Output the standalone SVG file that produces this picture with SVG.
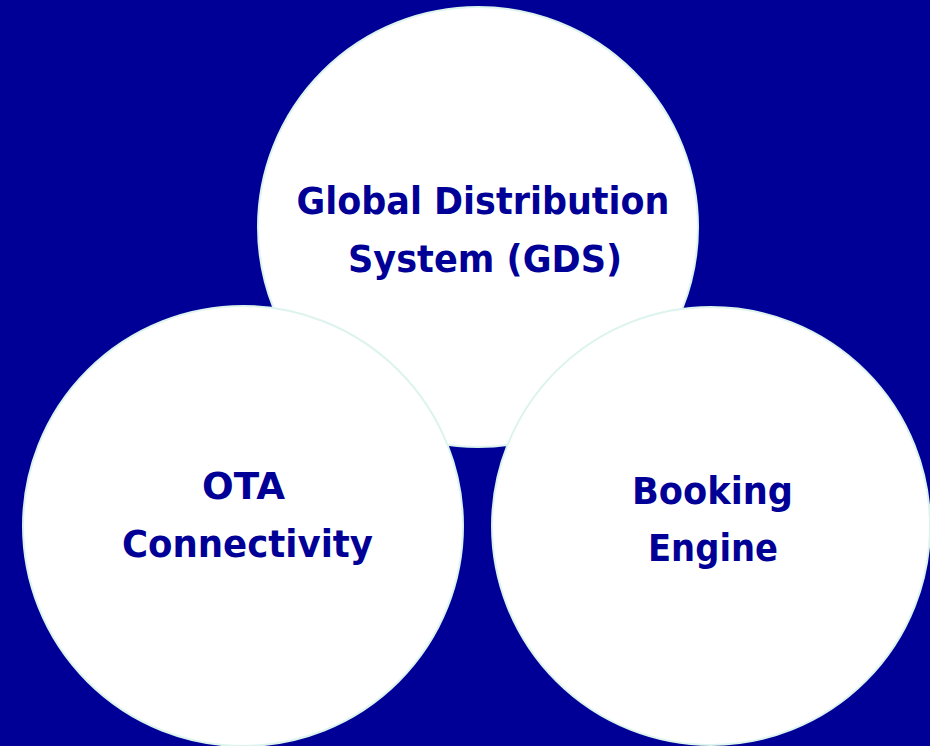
<svg xmlns="http://www.w3.org/2000/svg" width="930" height="746" viewBox="0 0 930 746">
  <style>
    .bg { fill: #000096; }
    .node circle { fill: #ffffff; stroke: #dcf3ee; stroke-width: 2; }
    .node text { font-family: "DejaVu Sans", "Liberation Sans", sans-serif; font-weight: bold; font-size: 37px; fill: #000096; text-anchor: middle; }
  </style>
  <rect class="bg" x="0" y="0" width="930" height="746"/>
  <g id="node-gds" class="node">
    <circle cx="478" cy="227" r="220"/>
    <text x="483" y="214" textLength="373" lengthAdjust="spacingAndGlyphs">Global Distribution</text>
    <text x="485" y="272" textLength="274" lengthAdjust="spacingAndGlyphs">System (GDS)</text>
  </g>
  <g id="node-ota" class="node">
    <circle cx="243" cy="526" r="220"/>
    <text x="243.5" y="499" textLength="83" lengthAdjust="spacingAndGlyphs">OTA</text>
    <text x="247.5" y="557" textLength="251" lengthAdjust="spacingAndGlyphs">Connectivity</text>
  </g>
  <g id="node-booking" class="node">
    <circle cx="711" cy="526" r="219"/>
    <text x="712.5" y="504" textLength="161" lengthAdjust="spacingAndGlyphs">Booking</text>
    <text x="713" y="561" textLength="130" lengthAdjust="spacingAndGlyphs">Engine</text>
  </g>
  <g id="connectors"></g>
</svg>
